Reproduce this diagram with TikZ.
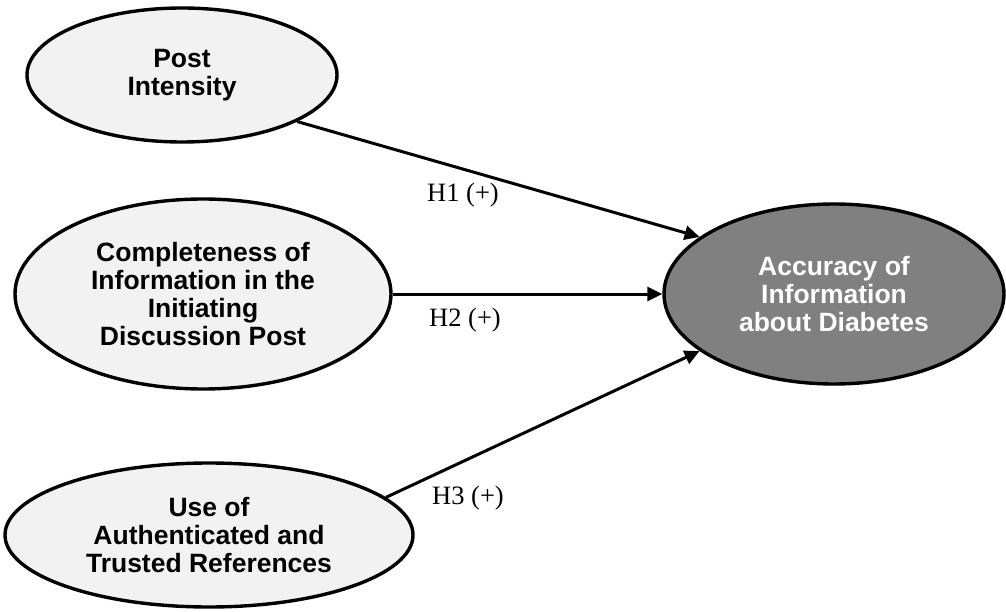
\documentclass[tikz,border=0pt]{standalone}
\usepackage{fontspec}
\setmainfont{Liberation Serif}
\setsansfont{Liberation Sans}
\usetikzlibrary{shapes,arrows.meta,positioning}
\definecolor{lightgrey}{rgb}{.95,.95,.95}
\definecolor{darkgrey}{rgb}{.5,.5,.5}

\begin{document}
\begin{tikzpicture}[x=1pt,y=-1pt,% y grows downwards, like the pixel rows
			every node/.style={
				align=center,		% so that "\\" breaks the line
				font=\fontsize{26.5}{28}\selectfont
			},
			construct/.style={ellipse,draw=black,line width=3.4pt,fill=lightgrey,inner sep=0pt,
				font=\sffamily\bfseries\fontsize{26.5}{28}\selectfont},
			every edge/.style={draw,line width=3pt,-{Triangle[length=15pt,width=14pt]}}
		]
		\useasboundingbox (0,0) rectangle (1006,612);
		\node[construct,minimum width=310pt,minimum height=134pt](R1) at (182,75){Post\\Intensity};
		\node[construct,minimum width=376pt,minimum height=190pt](R2) at (203,294){Completeness of\\Information in the\\Initiating\\Discussion Post};
		\node[construct,minimum width=408pt,minimum height=144pt](R3) at (209,535){Use of\\Authenticated and\\Trusted References};
		\node[construct,minimum width=340pt,minimum height=180pt,fill=darkgrey,text=white](R4) at (834,294){Accuracy of\\Information\\about Diabetes};
		\node(H1) at (463,195){H1 (+)};
		\node(H2) at (465,320){H2 (+)};
		\node(H3) at (468,498){H3 (+)};
		\path
		(R1.-22)edge []	node [] {} (R4.157)
		(R2.east)edge []	node [] {} (R4.west)
		(R3.12)edge []	node [] {} (R4.203)
		;
	\end{tikzpicture}
\end{document}
